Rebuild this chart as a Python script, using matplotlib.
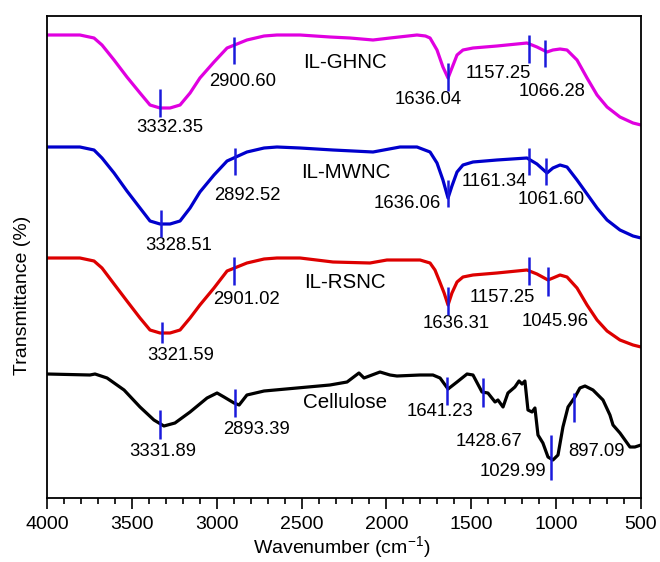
import matplotlib
matplotlib.use("Agg")
import matplotlib.pyplot as plt
from matplotlib.ticker import MultipleLocator

plt.rcParams['font.family'] = ['Liberation Sans', 'DejaVu Sans']
plt.rcParams['mathtext.default'] = 'regular'

# ---------------- data ----------------
ghnc_wn = [4000, 3806, 3723, 3676, 3605, 3529, 3452, 3393, 3334, 3275, 3216, 3157, 3099, 3016,
           2939, 2822, 2721, 2645, 2509, 2333, 2215, 2079, 1979, 1820, 1770, 1743, 1702, 1667,
           1637, 1614, 1584, 1549, 1490, 1349, 1172, 1113, 1054, 1019, 977, 936, 877, 818,
           759, 700, 624, 547, 500]
ghnc_t = [463, 463, 460, 453, 438, 421, 405, 393, 390, 390, 393, 405, 420, 436,
          450, 458, 462, 463, 463, 461, 460, 458, 460, 463, 462, 460, 448, 431,
          420, 430, 443, 448, 450, 452, 455, 451, 446, 448, 449, 448, 438, 420,
          403, 391, 381, 375, 373]

mwnc_wn = [4000, 3806, 3723, 3676, 3605, 3529, 3452, 3393, 3334, 3275, 3216, 3157, 3099, 3016,
           2939, 2822, 2721, 2645, 2509, 2315, 2079, 1920, 1820, 1743, 1702, 1667, 1637, 1614,
           1584, 1549, 1490, 1349, 1172, 1113, 1054, 1019, 977, 936, 877, 818, 759, 700,
           624, 547, 500]
mwnc_t = [351, 351, 348, 340, 325, 307, 290, 277, 274, 274, 277, 290, 306, 323,
          337, 346, 350, 351, 350, 348, 346, 351, 351, 346, 335, 318, 300, 312,
          326, 333, 336, 338, 340, 334, 325, 330, 333, 331, 318, 304, 290, 278,
          268, 262, 260]

rsnc_wn = [4000, 3806, 3723, 3676, 3605, 3529, 3452, 3393, 3334, 3275, 3216, 3157, 3099, 3016,
           2939, 2822, 2721, 2645, 2509, 2315, 2097, 1997, 1802, 1743, 1714, 1690, 1660, 1637,
           1614, 1584, 1549, 1490, 1349, 1172, 1113, 1048, 1019, 977, 936, 877, 818, 759,
           700, 624, 547, 500]
rsnc_t = [240, 240, 237, 230, 214, 197, 180, 168, 165, 165, 168, 180, 193, 210,
          227, 235, 239, 240, 240, 236, 235, 238, 238, 235, 228, 218, 205, 193,
          205, 216, 221, 223, 225, 228, 224, 218, 220, 223, 221, 210, 193, 178,
          167, 158, 153, 151]

cell_wn = [4000, 3747, 3717, 3646, 3546, 3452, 3370, 3311, 3246, 3157, 3057, 2998, 2957, 2898,
           2868, 2822, 2721, 2527, 2333, 2232, 2162, 2132, 2038, 1979, 1938, 1802, 1726, 1684,
           1637, 1584, 1525, 1490, 1437, 1402, 1360, 1343, 1313, 1284, 1243, 1219, 1201, 1184,
           1166, 1142, 1125, 1107, 1078, 1048, 1019, 989, 960, 930, 889, 860, 830, 783,
           724, 683, 665, 624, 565, 536, 500]
cell_t = [124, 123, 124, 120, 108, 91, 78, 72, 75, 86, 100, 105, 101, 95,
          93, 103, 107, 110, 113, 116, 125, 120, 126, 123, 122, 123, 123, 120,
          109, 116, 124, 123, 106, 105, 96, 98, 91, 105, 111, 117, 114, 117,
          88, 86, 90, 63, 55, 41, 38, 43, 71, 91, 101, 110, 112, 108,
          98, 83, 73, 65, 51, 51, 53]

series_names = ['IL-GHNC', 'IL-MWNC', 'IL-RSNC', 'Cellulose']
series_colors = ['#E000E0', '#0000CC', '#DD0000', '#000000']

# peak markers: wavenumber, lower/upper transmittance of marker bar
ghnc_peaks = [3332.35, 2900.60, 1636.04, 1157.25, 1066.28]
ghnc_peak_lo = [381, 434, 407, 435, 431]
ghnc_peak_hi = [409, 461, 435, 463, 458]
mwnc_peaks = [3328.51, 2892.52, 1636.06, 1161.34, 1061.60]
mwnc_peak_lo = [261, 323, 291, 323, 313]
mwnc_peak_hi = [288, 350, 318, 350, 340]
rsnc_peaks = [3321.59, 2901.02, 1636.31, 1157.25, 1045.96]
rsnc_peak_lo = [155, 213, 183, 213, 202]
rsnc_peak_hi = [176, 241, 211, 241, 231]
cell_peaks = [3331.89, 2893.39, 1641.23, 1428.67, 1029.99, 897.09]
cell_peak_lo = [59, 81, 93, 91, 18, 76]
cell_peak_hi = [88, 109, 121, 120, 63, 105]

# label positions (wavenumber, transmittance) for each peak label
ghnc_lab_x = [3275, 2845, 1755, 1343, 1025]
ghnc_lab_y = [370, 417, 398, 424, 407]
mwnc_lab_x = [3222, 2822, 1879, 1366, 1030]
mwnc_lab_y = [253, 302, 295, 316, 299]
rsnc_lab_x = [3210, 2822, 1590, 1319, 1007]
rsnc_lab_y = [142, 198, 175, 200, 177]
cell_lab_x = [3317, 2763, 1684, 1396, 1254, 765]
cell_lab_y = [47, 69, 86, 56, 27, 46]

name_x = [2244, 2238, 2244, 2244]
name_y = [436, 325, 215, 95]

# ---------------- figure ----------------
fig = plt.figure(figsize=(6.6, 5.62), dpi=100)
ax = fig.add_axes([47/660, 1-498/562, 594/660, 482/562])

curves = [(ghnc_wn, ghnc_t), (mwnc_wn, mwnc_t), (rsnc_wn, rsnc_t), (cell_wn, cell_t)]
peaks = [(ghnc_peaks, ghnc_peak_lo, ghnc_peak_hi, ghnc_lab_x, ghnc_lab_y),
         (mwnc_peaks, mwnc_peak_lo, mwnc_peak_hi, mwnc_lab_x, mwnc_lab_y),
         (rsnc_peaks, rsnc_peak_lo, rsnc_peak_hi, rsnc_lab_x, rsnc_lab_y),
         (cell_peaks, cell_peak_lo, cell_peak_hi, cell_lab_x, cell_lab_y)]

for (wn, t), col, name, nx, ny in zip(curves, series_colors, series_names, name_x, name_y):
    ax.plot(wn, t, color=col, lw=2.3, solid_joinstyle='round', solid_capstyle='round')
    ax.text(nx, ny, name, fontsize=14.8, ha='center', va='center')

peak_blue = '#1a1adc'
for pk, lo, hi, lx, ly in peaks:
    ax.vlines(pk, lo, hi, color=peak_blue, lw=1.8, zorder=5)
    for p, x, y in zip(pk, lx, ly):
        ax.text(x, y, f'{p:.2f}', fontsize=13.3, ha='center', va='center')

ax.set_xlim(4000, 500)
ax.set_ylim(0, 482)
ax.set_yticks([])
ax.xaxis.set_major_locator(MultipleLocator(500))
ax.xaxis.set_minor_locator(MultipleLocator(100))
ax.tick_params(axis='x', which='major', direction='out', length=8, width=1.2,
               labelsize=14, pad=5, top=False)
ax.tick_params(axis='x', which='minor', direction='out', length=4, width=1.2, top=False)
for s in ax.spines.values():
    s.set_linewidth(1.3)

fig.text(342/660, 1-547/562, r'Wavenumber (cm$^{-1}$)', fontsize=14, ha='center', va='center')
fig.text(23/660, 1-295/562, 'Transmittance (%)', fontsize=14, ha='center', va='center',
         rotation=90)

fig.savefig('out.png', dpi=100)
